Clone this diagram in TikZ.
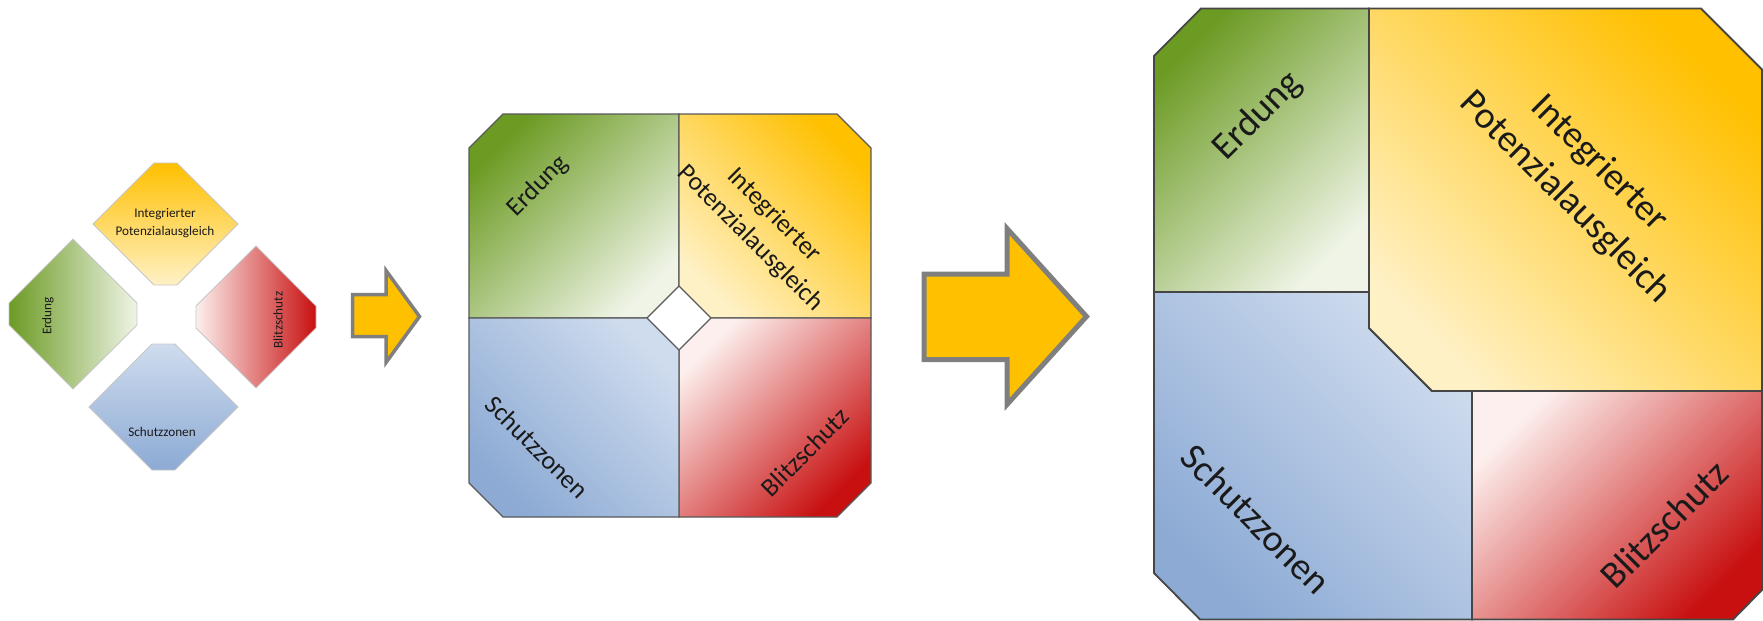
\documentclass[tikz,border=0pt]{standalone}
\usepackage{fontspec}
\setmainfont{Carlito}
\usepackage{tikz}
\usetikzlibrary{positioning}
\definecolor{grnD}{HTML}{6C9B24}
\definecolor{grnL}{HTML}{EFF4E6}
\definecolor{ylwD}{HTML}{FFC000}
\definecolor{ylwL}{HTML}{FFF1C6}
\definecolor{redD}{HTML}{C81010}
\definecolor{redL}{HTML}{FCEFED}
\definecolor{bluD}{HTML}{8CAAD4}
\definecolor{bluL}{HTML}{CFDCEE}
\definecolor{arrowfill}{HTML}{FFC000}
\definecolor{arrowline}{HTML}{7F7F7F}
\definecolor{txtcol}{HTML}{1A1A1A}
\tikzstyle{seg_small} = [draw=gray!45, line width=0.4pt, line join=miter]
\tikzstyle{seg_mid} = [draw=gray!70!black, line width=0.6pt, line join=miter]
\tikzstyle{seg_big} = [draw=gray!55!black, line width=0.9pt, line join=miter]
\tikzstyle{blockarrow} = [fill=arrowfill, draw=arrowline, line join=miter]
\tikzstyle{txt_small} = [text=txtcol, align=center, inner sep=0pt, font=\fontsize{6.6}{8.6}\selectfont]
\tikzstyle{txt_mid} = [text=txtcol, align=center, inner sep=0pt, font=\fontsize{13}{16.5}\selectfont]
\tikzstyle{txt_big} = [text=txtcol, align=center, inner sep=0pt, font=\fontsize{18.9}{24}\selectfont]

\begin{document}
\begin{tikzpicture}[x=0.5pt, y=-0.5pt]
\useasboundingbox (0,0) rectangle (1763,621);

% separate pieces
\draw [seg_small, top color=ylwD, bottom color=ylwL] (93,224) -- (154,163) -- (177,163) -- (238,224) -- (177,285) -- (154,285) -- cycle;
\draw [seg_small, left color=grnD, right color=grnL] (73,239) -- (137,303) -- (137,325) -- (73,389) -- (9,325) -- (9,303) -- cycle;
\draw [seg_small, left color=redL, right color=redD] (256,246) -- (316,306) -- (316,328) -- (256,388) -- (196,328) -- (196,306) -- cycle;
\draw [seg_small, top color=bluL, bottom color=bluD] (89,407) -- (152,344) -- (175,344) -- (238,407) -- (175,470) -- (152,470) -- cycle;

\node (pot_s) [txt_small] at (165,223) {Integrierter\\Potenzialausgleich};
\node (erd_s) [txt_small, rotate=90] at (48,316) {Erdung};
\node (blz_s) [txt_small, rotate=90] at (278,320) {Blitzschutz};
\node (sch_s) [txt_small] at (162,432) {Schutzzonen};

\draw [blockarrow, line width=1.75pt] (352.5,294.5) -- (386,294.5) -- (386,270.5) -- (419.5,316.5) -- (386,362.5) -- (386,336.5) -- (352.5,336.5) -- cycle;

% joined square
\draw [seg_mid, top color=grnD, bottom color=grnL, shading angle=45] (469,148) -- (503,114) -- (679,114) -- (679,286) -- (647,318) -- (469,318) -- cycle;
\draw [seg_mid, top color=ylwD, bottom color=ylwL, shading angle=-45] (679,114) -- (837,114) -- (871,148) -- (871,318) -- (711,318) -- (679,286) -- cycle;
\draw [seg_mid, top color=redD, bottom color=redL, shading angle=-135] (711,318) -- (871,318) -- (871,483) -- (837,517) -- (679,517) -- (679,350) -- cycle;
\draw [seg_mid, top color=bluD, bottom color=bluL, shading angle=135] (469,318) -- (647,318) -- (679,350) -- (679,517) -- (503,517) -- (469,483) -- cycle;

\node (erd_m) [txt_mid, rotate=45] at (538,186) {Erdung};
\node (pot_m) [txt_mid, rotate=-45] at (762,227) {Integrierter\\Potenzialausgleich};
\node (sch_m) [txt_mid, rotate=-45] at (537,447) {Schutzzonen};
\node (blz_m) [txt_mid, rotate=45] at (805,452) {Blitzschutz};

\draw [blockarrow, line width=2.5pt] (924,274) -- (1007,274) -- (1007,228.5) -- (1086.5,316.5) -- (1007,404.5) -- (1007,359.5) -- (924,359.5) -- cycle;

% grown square
\draw [seg_big, top color=bluD, bottom color=bluL, shading angle=135] (1154,292) -- (1369,292) -- (1369,328) -- (1432,391) -- (1472,391) -- (1472,619.5) -- (1200,619.5) -- (1154,573) -- cycle;
\draw [seg_big, top color=grnD, bottom color=grnL, shading angle=45] (1154,56) -- (1201,8.5) -- (1369,8.5) -- (1369,292) -- (1154,292) -- cycle;
\draw [seg_big, top color=redD, bottom color=redL, shading angle=-135] (1472,391) -- (1762,391) -- (1762,590) -- (1733,619.5) -- (1472,619.5) -- cycle;
\draw [seg_big, top color=ylwD, bottom color=ylwL, shading angle=-45] (1369,8.5) -- (1701,8.5) -- (1762,69.5) -- (1762,391) -- (1432,391) -- (1369,328) -- cycle;

\node (erd_b) [txt_big, rotate=45] at (1258,116) {Erdung};
\node (pot_b) [txt_big, rotate=-45] at (1582,181) {Integrierter\\Potenzialausgleich};
\node (sch_b) [txt_big, rotate=-45] at (1256,519) {Schutzzonen};
\node (blz_b) [txt_big, rotate=45] at (1664,524) {Blitzschutz};

\end{tikzpicture}
\end{document}
